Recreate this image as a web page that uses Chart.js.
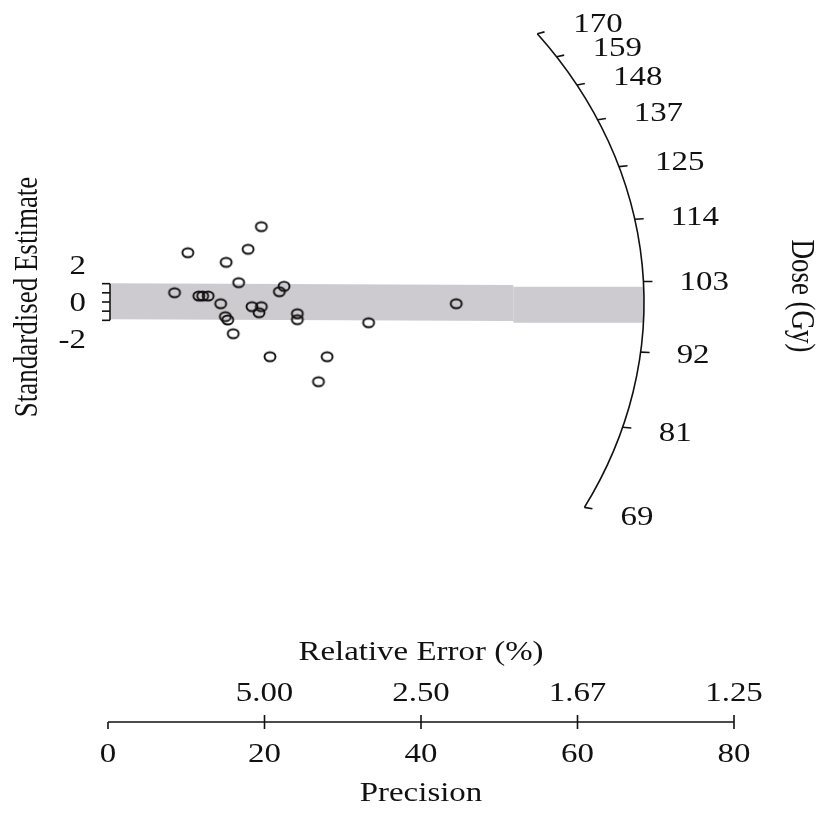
<!DOCTYPE html>
<html>
<head>
<meta charset="utf-8">
<script src="https://cdn.jsdelivr.net/npm/chart.js@4/dist/chart.umd.min.js"></script>
<style>
  html, body { margin: 0; padding: 0; background: #ffffff; }
  #wrap { position: relative; width: 821px; height: 814px; }
</style>
</head>
<body>
<div id="wrap"><canvas id="chart"></canvas></div>
<script>
// ---------------- data ----------------
const precision = [8.5, 10.2, 11.6, 12.1, 12.8, 14.4, 15.0, 15.3, 15.1, 16.0, 16.7, 17.9,
                   18.4, 19.6, 19.3, 19.6, 20.7, 21.9, 22.5, 24.2, 24.2, 26.9, 28.0, 33.3, 44.5];
const standardisedEstimate = [1.01, 5.38, 0.65, 0.65, 0.65, -0.19, -1.60, -1.96, 4.33, -3.46, 2.11, 5.75,
                   -0.51, -0.51, -1.17, 8.22, -5.97, 1.12, 1.71, -1.28, -1.93, -8.70, -5.97, -2.26, -0.19];

const precisionTicks = [0, 20, 40, 60, 80];
const precisionTickLabels = ['0', '20', '40', '60', '80'];
const relErrorTicks = [20, 40, 60, 80];
const relErrorTickLabels = ['5.00', '2.50', '1.67', '1.25'];

const doseTicks = [69, 81, 92, 103, 114, 125, 137, 148, 159, 170];
const doseTickLabels = ['69', '81', '92', '103', '114', '125', '137', '148', '159', '170'];
const centralDose = 99.7;

const zTicks = [-2, -1, 0, 1, 2];
const zTickLabelValues = [2, 0, -2];
const zTickLabels = ['2', '0', '-2'];

// 2-sigma band (precision, standardised estimate corners)
const bandLeftX = [0.3, 51.8, 51.8, 0.3];
const bandLeftY = [2.04, 1.85, -2.07, -1.89];
const bandRightX = [51.8, 68.45, 68.45, 51.8];
const bandRightY = [1.67, 1.67, -2.26, -2.26];

// radial axis (arc) radii in data units
const arcRadiusPrecision = 68.5;
const arcRadiusZ = 48.9;

// ---------------- styling ----------------
const FONT_FAMILY = '"Liberation Serif", "Times New Roman", serif';
const FONT_SIZE = 27;
const STRETCH = 1.22;
const INK = '#111111';
const BAND = 'rgb(205,203,207)';

// open-circle marker (slightly wide, like the reference)
const marker = document.createElement('canvas');
marker.width = 16; marker.height = 14;
(function () {
  const c = marker.getContext('2d');
  c.lineWidth = 1.9;
  c.strokeStyle = INK;
  c.beginPath();
  c.ellipse(8, 7, 5.5, 4.5, 0, 0, Math.PI * 2);
  c.stroke();
})();

function drawText(ctx, text, x, y, align, rot) {
  ctx.save();
  ctx.translate(x, y);
  ctx.scale(STRETCH, 1);
  if (rot) ctx.rotate(rot);
  ctx.font = FONT_SIZE + 'px ' + FONT_FAMILY;
  ctx.fillStyle = INK;
  ctx.textAlign = align;
  ctx.textBaseline = 'alphabetic';
  ctx.fillText(text, 0, 0);
  ctx.restore();
}

const radialDecor = {
  id: 'radialDecor',
  afterDatasetsDraw(chart) {
    const ctx = chart.ctx;
    const xs = chart.scales.x, ys = chart.scales.y;
    const cx = xs.getPixelForValue(0), cy = ys.getPixelForValue(0);
    const rx = xs.getPixelForValue(arcRadiusPrecision) - cx;
    const ry = cy - ys.getPixelForValue(arcRadiusZ);
    const half = FONT_SIZE * 0.331; // half cap height -> baseline offset

    ctx.save();
    ctx.strokeStyle = INK;
    ctx.lineWidth = 1.6;

    // ---- radial (dose) arc ----
    const angleOf = d => Math.atan(Math.log(d / centralDose) * arcRadiusPrecision / arcRadiusZ);
    const tTop = angleOf(doseTicks[doseTicks.length - 1]);
    const tBot = angleOf(doseTicks[0]);
    ctx.beginPath();
    ctx.ellipse(cx, cy, rx, ry, 0, -tTop, -tBot, false);
    ctx.stroke();
    doseTicks.forEach((d, i) => {
      const t = angleOf(d);
      const px = cx + rx * Math.cos(t), py = cy - ry * Math.sin(t);
      const ex = cx + (rx + 9) * Math.cos(t), ey = cy - (ry + 3) * Math.sin(t);
      ctx.beginPath();
      ctx.moveTo(px, py);
      ctx.lineTo(ex, ey);
      ctx.stroke();
      drawText(ctx, doseTickLabels[i], px + 36, py - 18 * Math.sin(t) + half, 'left');
    });

    // ---- z bracket on the left ----
    const bx = cx + 2;
    ctx.beginPath();
    ctx.moveTo(bx, ys.getPixelForValue(zTicks[zTicks.length - 1]));
    ctx.lineTo(bx, ys.getPixelForValue(zTicks[0]));
    ctx.stroke();
    zTicks.forEach(v => {
      const py = ys.getPixelForValue(v);
      ctx.beginPath();
      ctx.moveTo(bx, py);
      ctx.lineTo(bx - 8, py);
      ctx.stroke();
    });
    zTickLabelValues.forEach((v, i) => {
      const py = ys.getPixelForValue(v * 2);
      drawText(ctx, zTickLabels[i], cx - 22, py + half, 'right');
    });

    // ---- precision axis at the bottom ----
    const ay = chart.chartArea.bottom;
    ctx.beginPath();
    ctx.moveTo(xs.getPixelForValue(precisionTicks[0]), ay);
    ctx.lineTo(xs.getPixelForValue(precisionTicks[precisionTicks.length - 1]), ay);
    ctx.stroke();
    precisionTicks.forEach((v, i) => {
      const px = xs.getPixelForValue(v);
      ctx.beginPath();
      ctx.moveTo(px, v === 0 ? ay : ay - 7);
      ctx.lineTo(px, ay + 7);
      ctx.stroke();
      drawText(ctx, precisionTickLabels[i], px, ay + 31 + half, 'center');
    });
    relErrorTicks.forEach((v, i) => {
      drawText(ctx, relErrorTickLabels[i], xs.getPixelForValue(v), ay - 30 + half, 'center');
    });
    const mid = xs.getPixelForValue(40);
    drawText(ctx, 'Relative Error (%)', mid, ay - 71 + half, 'center');
    drawText(ctx, 'Precision', mid, ay + 70 + half, 'center');

    // ---- axis titles ----
    drawText(ctx, 'Standardised Estimate', 37, cy - 5, 'center', -Math.PI / 2);
    drawText(ctx, 'Dose (Gy)', 792, cy - 6, 'center', Math.PI / 2);

    ctx.restore();
  }
};

const toPts = (xa, ya) => xa.map((x, i) => ({ x: x, y: ya[i] }));

new Chart(document.getElementById('chart'), {
  type: 'scatter',
  data: {
    datasets: [
      {
        label: 'Estimates',
        data: toPts(precision, standardisedEstimate),
        pointStyle: marker,
        pointRadius: 6,
        pointHoverRadius: 6,
        order: 0,
        clip: false
      },
      {
        type: 'line',
        label: 'band1',
        data: toPts(bandLeftX, bandLeftY),
        fill: 'shape',
        backgroundColor: BAND,
        borderWidth: 0,
        borderColor: 'rgba(0,0,0,0)',
        pointRadius: 0,
        tension: 0,
        order: 2
      },
      {
        type: 'line',
        label: 'band2',
        data: toPts(bandRightX, bandRightY),
        fill: 'shape',
        backgroundColor: BAND,
        borderWidth: 0,
        borderColor: 'rgba(0,0,0,0)',
        pointRadius: 0,
        tension: 0,
        order: 2
      }
    ]
  },
  options: {
    responsive: true,
    maintainAspectRatio: false,
    animation: false,
    layout: { padding: { left: 108, right: 87, top: 8, bottom: 92 } },
    scales: {
      x: { type: 'linear', min: 0, max: 80, display: false },
      y: { type: 'linear', min: -45.83, max: 32.08, display: false }
    },
    plugins: {
      legend: { display: false },
      tooltip: { enabled: false }
    }
  },
  plugins: [radialDecor]
});
</script>
</body>
</html>
